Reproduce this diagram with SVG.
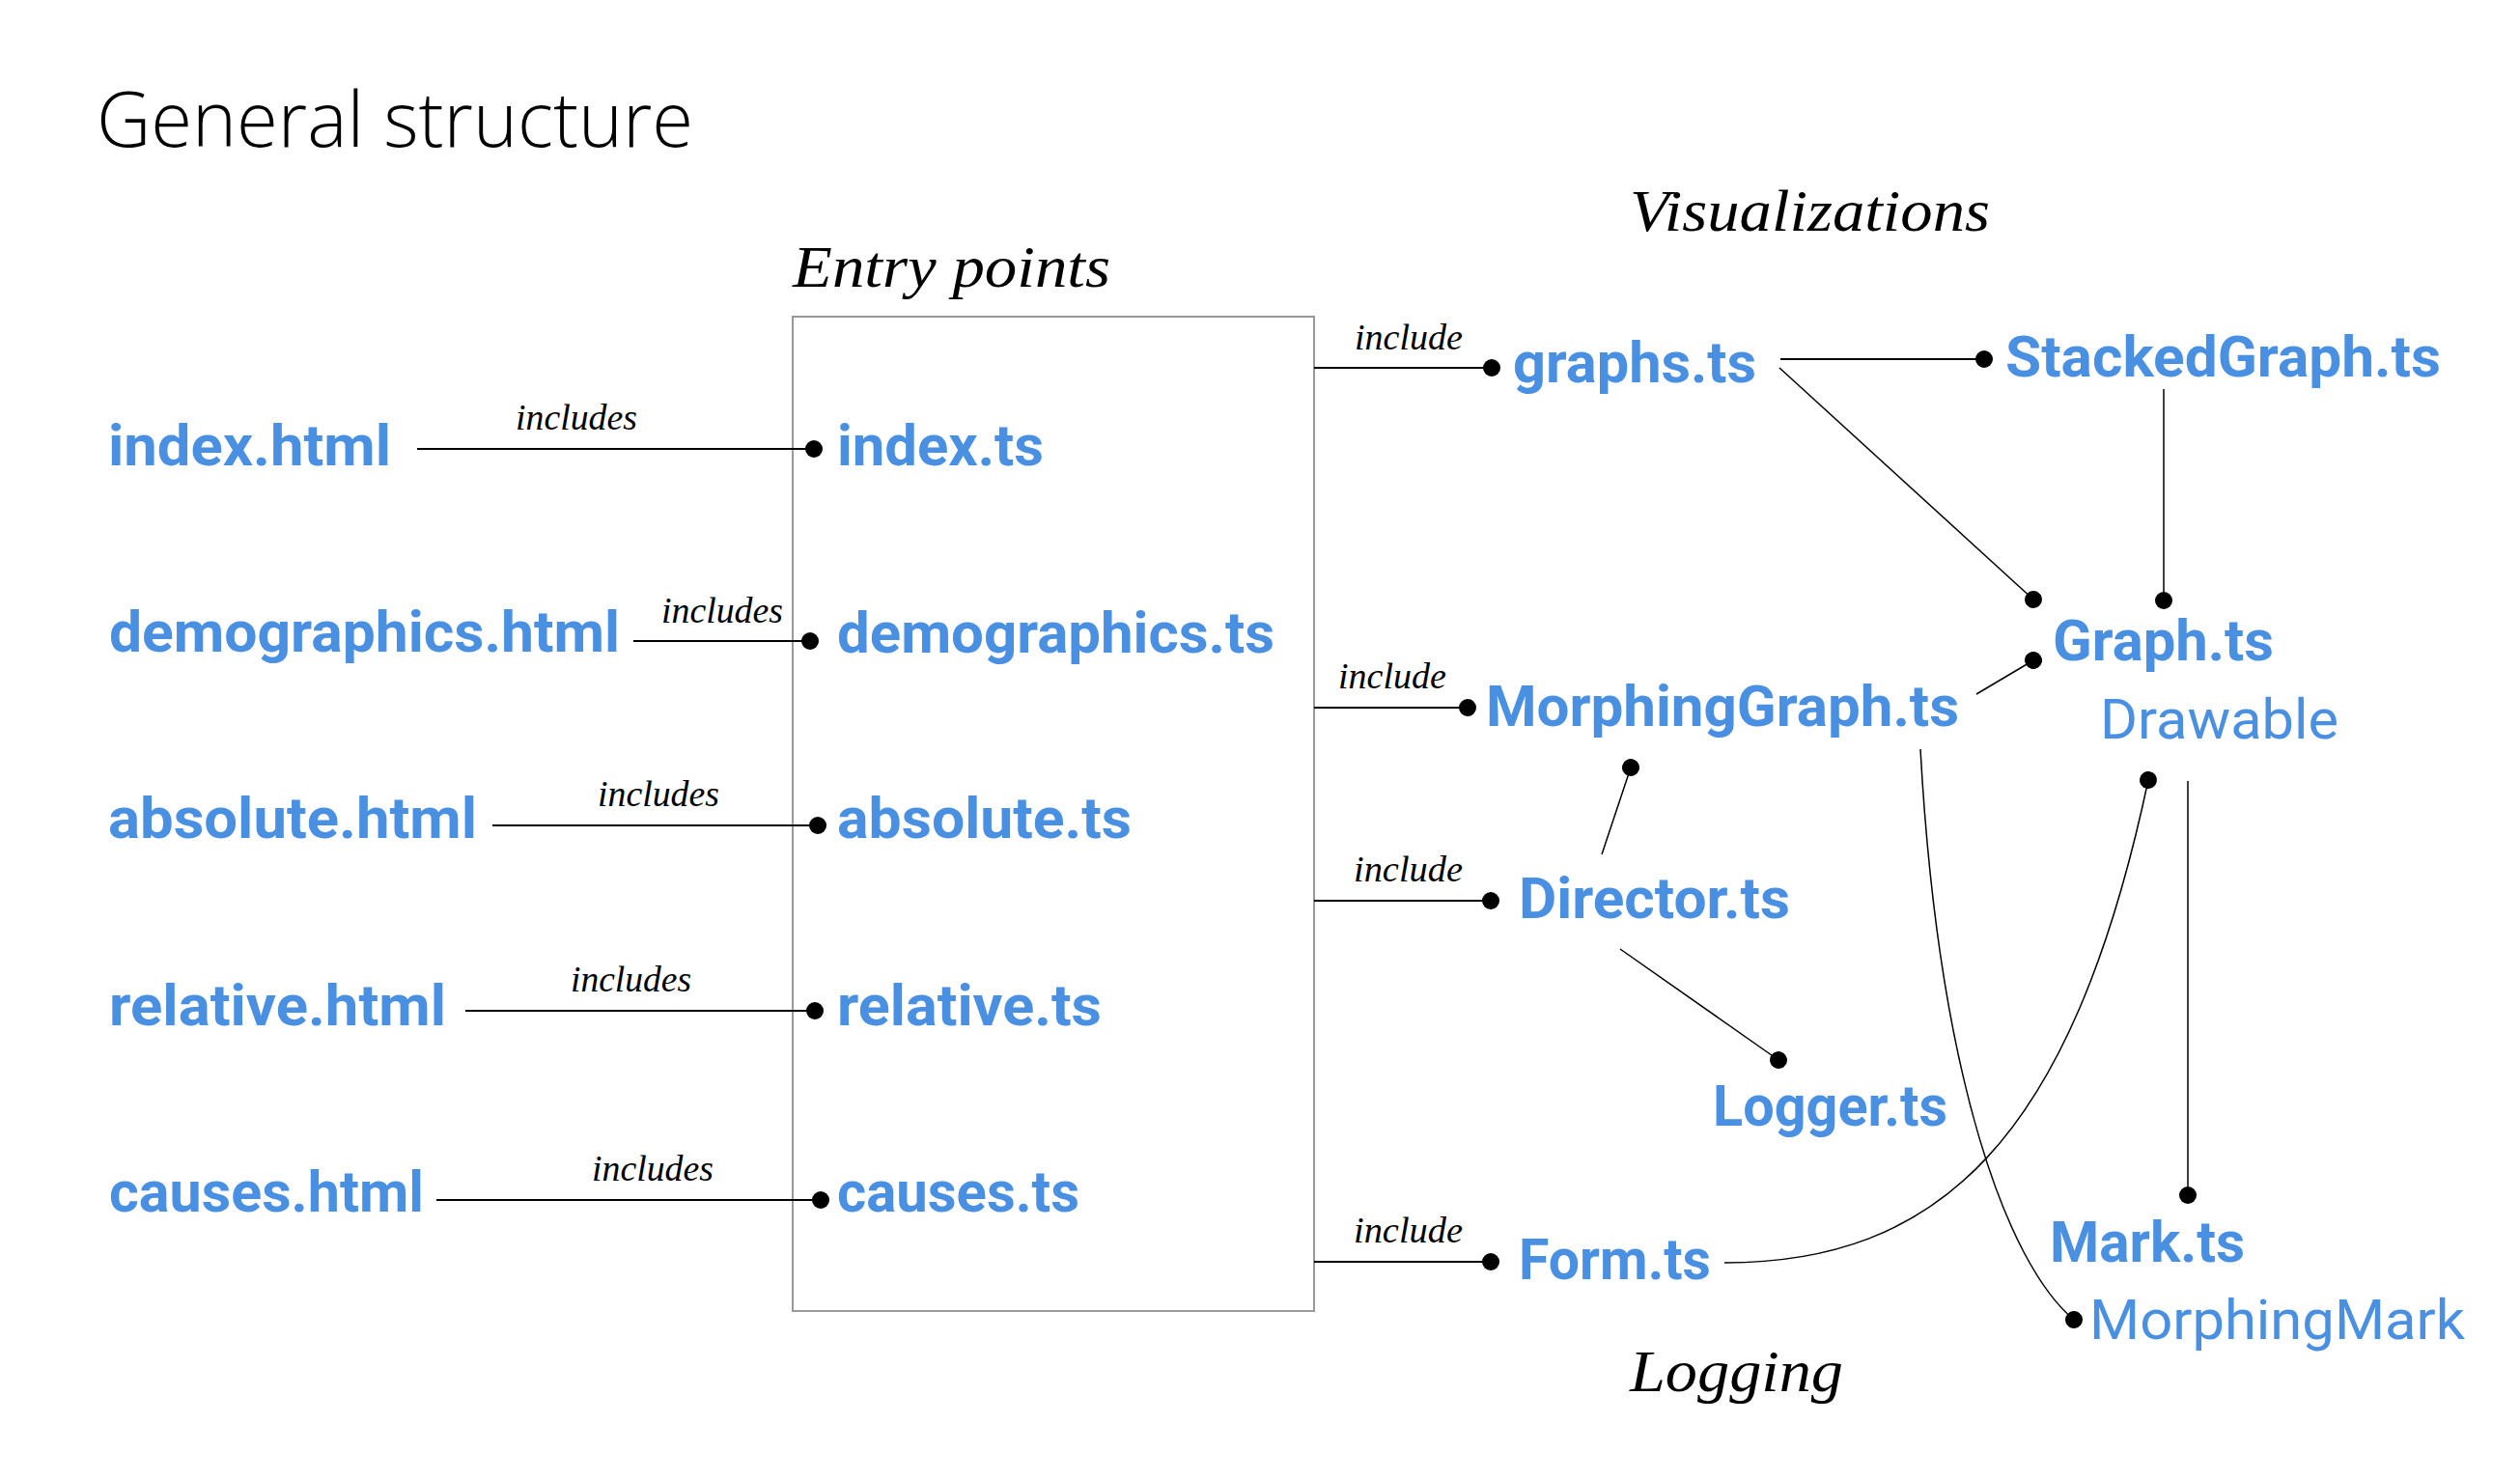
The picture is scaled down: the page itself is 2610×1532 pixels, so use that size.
<svg xmlns="http://www.w3.org/2000/svg" width="2610" height="1532" viewBox="0 0 2610 1532">
<style>
.title{font-family:"Open Sans","Liberation Sans",sans-serif;font-weight:300;font-size:80px;fill:#000}
.head{font-family:"Liberation Serif",serif;font-style:italic;font-size:62px;fill:#000}
.lbl{font-family:"Liberation Serif",serif;font-style:italic;font-size:37px;fill:#000}
.node{font-family:Roboto,"Liberation Sans",sans-serif;font-weight:700;font-size:59px;fill:#4A90E2}
.sub{font-family:Roboto,"Liberation Sans",sans-serif;font-weight:400;font-size:57px;fill:#4A90E2}
.c{stroke:#000;stroke-width:2;fill:none;marker-end:url(#dot)}
.te{stroke:#000;stroke-width:1.5;fill:none;marker-end:url(#dot)}
</style>
<defs>
<marker id="dot" viewBox="0 0 20 20" refX="10" refY="10" markerUnits="userSpaceOnUse" markerWidth="18" markerHeight="18" orient="auto">
<circle cx="10" cy="10" r="10" fill="#000"/>
</marker>
</defs>
<rect width="2610" height="1532" fill="#fff"/>
<text class="title" x="100" y="152" textLength="618" lengthAdjust="spacingAndGlyphs">General structure</text>
<text class="head" x="821" y="297" textLength="329" lengthAdjust="spacingAndGlyphs">Entry points</text>
<text class="head" x="1688" y="239" textLength="373" lengthAdjust="spacingAndGlyphs">Visualizations</text>
<text class="head" x="1688" y="1441" textLength="221" lengthAdjust="spacingAndGlyphs">Logging</text>
<rect id="entry-box" x="821" y="328" width="540" height="1030" fill="none" stroke="#999" stroke-width="2"/>
<g id="connectors">
<line class="c" x1="432" y1="465" x2="843" y2="465"/>
<line class="c" x1="656" y1="664" x2="839" y2="664"/>
<line class="c" x1="510" y1="855" x2="847" y2="855"/>
<line class="c" x1="482" y1="1047" x2="844" y2="1047"/>
<line class="c" x1="452" y1="1243" x2="850" y2="1243"/>
<line class="c" x1="1361" y1="381" x2="1545" y2="381"/>
<line class="c" x1="1361" y1="733" x2="1520" y2="733"/>
<line class="c" x1="1361" y1="933" x2="1544" y2="933"/>
<line class="c" x1="1361" y1="1307" x2="1544" y2="1307"/>
<line class="c" x1="1844" y1="372" x2="2055" y2="372"/>
<line class="te" x1="1843" y1="381" x2="2106" y2="621"/>
<line class="te" x1="2241" y1="403" x2="2241" y2="622"/>
<line class="te" x1="2047" y1="719" x2="2106" y2="684"/>
<line class="te" x1="1659" y1="885" x2="1689" y2="795"/>
<line class="te" x1="1678" y1="983" x2="1842" y2="1098"/>
<path class="te" d="M1786,1308 C2005,1308 2145,1185 2225,808"/>
<path class="te" d="M1989,776 C2008,1120 2080,1310 2148,1367"/>
<line class="te" x1="2266" y1="809" x2="2266" y2="1238"/>
<text class="lbl" x="534" y="445" textLength="126" lengthAdjust="spacingAndGlyphs">includes</text>
<text class="lbl" x="685" y="645" textLength="126" lengthAdjust="spacingAndGlyphs">includes</text>
<text class="lbl" x="619" y="835" textLength="126" lengthAdjust="spacingAndGlyphs">includes</text>
<text class="lbl" x="591" y="1027" textLength="125" lengthAdjust="spacingAndGlyphs">includes</text>
<text class="lbl" x="613" y="1223" textLength="126" lengthAdjust="spacingAndGlyphs">includes</text>
<text class="lbl" x="1403" y="362" textLength="112" lengthAdjust="spacingAndGlyphs">include</text>
<text class="lbl" x="1386" y="713" textLength="112" lengthAdjust="spacingAndGlyphs">include</text>
<text class="lbl" x="1402" y="913" textLength="113" lengthAdjust="spacingAndGlyphs">include</text>
<text class="lbl" x="1402" y="1287" textLength="113" lengthAdjust="spacingAndGlyphs">include</text>
</g>
<g id="index-html"><text class="node" x="112" y="482" textLength="293" lengthAdjust="spacingAndGlyphs">index.html</text></g>
<g id="demographics-html"><text class="node" x="113" y="675" textLength="529" lengthAdjust="spacingAndGlyphs">demographics.html</text></g>
<g id="absolute-html"><text class="node" x="112" y="868" textLength="382" lengthAdjust="spacingAndGlyphs">absolute.html</text></g>
<g id="relative-html"><text class="node" x="113" y="1062" textLength="349" lengthAdjust="spacingAndGlyphs">relative.html</text></g>
<g id="causes-html"><text class="node" x="113" y="1255" textLength="326" lengthAdjust="spacingAndGlyphs">causes.html</text></g>
<g id="index-ts"><text class="node" x="867" y="482" textLength="214" lengthAdjust="spacingAndGlyphs">index.ts</text></g>
<g id="demographics-ts"><text class="node" x="867" y="676" textLength="453" lengthAdjust="spacingAndGlyphs">demographics.ts</text></g>
<g id="absolute-ts"><text class="node" x="867" y="868" textLength="305" lengthAdjust="spacingAndGlyphs">absolute.ts</text></g>
<g id="relative-ts"><text class="node" x="867" y="1062" textLength="274" lengthAdjust="spacingAndGlyphs">relative.ts</text></g>
<g id="causes-ts"><text class="node" x="867" y="1255" textLength="251" lengthAdjust="spacingAndGlyphs">causes.ts</text></g>
<g id="graphs-ts"><text class="node" x="1567" y="396" textLength="252" lengthAdjust="spacingAndGlyphs">graphs.ts</text></g>
<g id="stackedgraph-ts"><text class="node" x="2077" y="390" textLength="451" lengthAdjust="spacingAndGlyphs">StackedGraph.ts</text></g>
<g id="graph-ts"><text class="node" x="2126" y="684" textLength="229" lengthAdjust="spacingAndGlyphs">Graph.ts</text>
<text class="sub" x="2175" y="765" textLength="247" lengthAdjust="spacingAndGlyphs">Drawable</text></g>
<g id="morphinggraph-ts"><text class="node" x="1539" y="752" textLength="490" lengthAdjust="spacingAndGlyphs">MorphingGraph.ts</text></g>
<g id="director-ts"><text class="node" x="1573" y="951" textLength="281" lengthAdjust="spacingAndGlyphs">Director.ts</text></g>
<g id="logger-ts"><text class="node" x="1774" y="1166" textLength="243" lengthAdjust="spacingAndGlyphs">Logger.ts</text></g>
<g id="form-ts"><text class="node" x="1573" y="1325" textLength="199" lengthAdjust="spacingAndGlyphs">Form.ts</text></g>
<g id="mark-ts"><text class="node" x="2123" y="1307" textLength="202" lengthAdjust="spacingAndGlyphs">Mark.ts</text>
<text class="sub" x="2164" y="1387" textLength="389" lengthAdjust="spacingAndGlyphs">MorphingMark</text></g>
</svg>
